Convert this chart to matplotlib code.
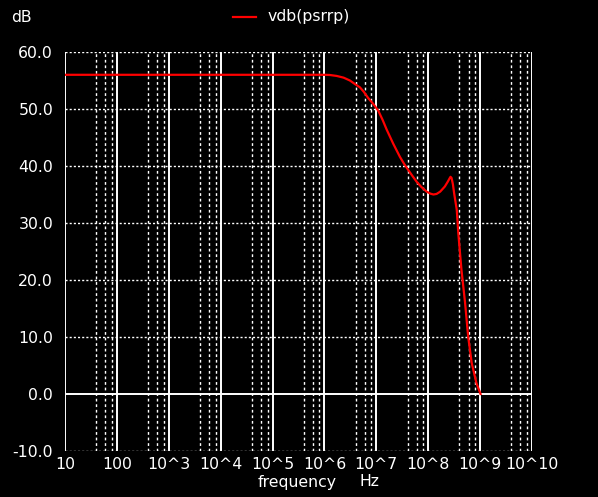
import numpy as np
import matplotlib
matplotlib.use("Agg")
import matplotlib.pyplot as plt

# Data (frequency in Hz, vdb(psrrp) in dB)
freq = [10, 1e2, 1e3, 1e4, 1e5, 1e6, 1.26e6, 1.72e6, 2.34e6, 3.09e6, 3.98e6,
        4.83e6, 5.75e6, 7.0e6, 8.71e6, 1.09e7, 1.32e7, 1.58e7, 2.12e7, 2.85e7,
        3.47e7, 4.12e7, 5.01e7, 6.03e7, 7.41e7, 9.33e7, 1.1e8, 1.26e8, 1.45e8,
        1.7e8, 2.09e8, 2.4e8, 2.57e8, 2.69e8, 2.82e8, 2.99e8, 3.16e8, 3.55e8,
        3.8e8, 4.37e8, 5.13e8, 5.89e8, 6.9e8, 8.5e8, 1.02e9]
psrr = [56.0, 56.0, 56.0, 56.0, 56.0, 56.0, 55.97, 55.8, 55.5, 55.0, 54.3,
        53.8, 53.0, 51.9, 50.9, 49.7, 48.1, 46.4, 43.9, 41.6,
        40.3, 39.3, 38.2, 37.2, 36.3, 35.5, 35.15, 35.0, 35.1,
        35.5, 36.4, 37.3, 37.8, 38.1, 37.9, 36.8, 35.2, 32.3,
        28.2, 21.8, 16.0, 10.05, 5.4, 1.9, 0.0]

xticks = [1e1, 1e2, 1e3, 1e4, 1e5, 1e6, 1e7, 1e8, 1e9, 1e10]
xticklabels = ["10", "100", "10^3", "10^4", "10^5", "10^6", "10^7", "10^8", "10^9", "10^10"]
yticks = [-10, 0, 10, 20, 30, 40, 50, 60]
yticklabels = ["-10.0", "0.0", "10.0", "20.0", "30.0", "40.0", "50.0", "60.0"]

W, H = 598, 497
fig = plt.figure(figsize=(W / 100, H / 100), dpi=100, facecolor="black")
L, R, T, B = 65, 532, 52, 451
ax = fig.add_axes([L / W, 1 - B / H, (R - L) / W, (B - T) / H], facecolor="black")
ax.set_xscale("log")
ax.set_xlim(1e1, 1e10)
ax.set_ylim(-10, 60)
for s in ax.spines.values():
    s.set_visible(False)

dot = (0, (2, 2))
# minor vertical dotted grid (4, 6, 8 of each decade)
for d in range(1, 10):
    for m in (4, 6, 8):
        ax.axvline(m * 10 ** d, color="white", lw=1.0, ls=dot, zorder=1)
# major vertical solid grid
for xv in xticks:
    ax.axvline(xv, color="white", lw=1.4, zorder=2)
# horizontal grid
for yv in yticks:
    if yv == 0:
        ax.axhline(yv, color="white", lw=1.4, zorder=2)
    else:
        ax.axhline(yv, color="white", lw=1.0, ls=(0, (1.5, 1.5)), zorder=1)

ax.plot(freq, psrr, color="#ff0000", lw=1.6, zorder=3, solid_joinstyle="round")

fs = 11.3
ax.set_xticks(xticks)
ax.set_xticklabels(xticklabels)
ax.xaxis.set_minor_locator(matplotlib.ticker.NullLocator())
ax.set_yticks(yticks)
ax.set_yticklabels(yticklabels)
ax.tick_params(axis="both", length=0, colors="white", labelsize=fs)
ax.tick_params(axis="x", pad=4)
ax.tick_params(axis="y", pad=8.6)

fig.text(11 / W, 1 - 18 / H, "dB", color="white", fontsize=fs, va="center", ha="left")
fig.text(297 / W, 1 - 482 / H, "frequency", color="white", fontsize=fs, va="center", ha="center")
fig.text(369 / W, 1 - 482 / H, "Hz", color="white", fontsize=fs, va="center", ha="center")
fig.add_artist(plt.Line2D([233 / W, 256 / W], [1 - 17 / H, 1 - 17 / H], color="#ff0000", lw=1.6))
fig.text(268 / W, 1 - 17 / H, "vdb(psrrp)", color="white", fontsize=fs, va="center", ha="left")

fig.savefig("out.png", dpi=100, facecolor="black")
